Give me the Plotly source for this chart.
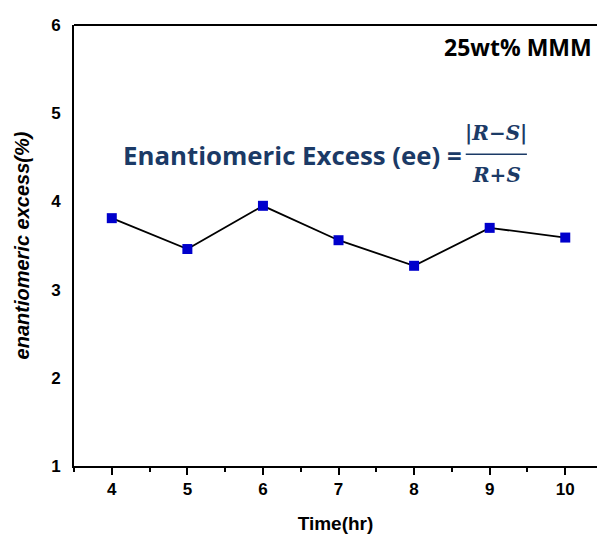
import plotly.graph_objects as go

time_hr = [4, 5, 6, 7, 8, 9, 10]
ee_pct = [3.81, 3.46, 3.95, 3.56, 3.27, 3.70, 3.59]
x_ticks = [4, 5, 6, 7, 8, 9, 10]
y_ticks = [1, 2, 3, 4, 5, 6]

navy = "#1b3a66"

fig = go.Figure()
fig.add_trace(go.Scatter(
    x=time_hr, y=ee_pct, mode="lines+markers",
    line=dict(color="black", width=1.8),
    marker=dict(symbol="square", size=10, color="#0000cc"),
    showlegend=False,
))

axis_font = dict(family="Liberation Sans, Arial", size=17, color="black")
fig.update_layout(
    width=597, height=534,
    margin=dict(l=74, r=0, t=25, b=68),
    paper_bgcolor="white", plot_bgcolor="white",
    xaxis=dict(
        range=[3.5, 10.42], tickvals=x_ticks, ticktext=[f"<b>{v}</b>" for v in x_ticks],
        ticks="outside", ticklen=7, tickwidth=2, tickcolor="black",
        minor=dict(tickvals=[3.5, 4.5, 5.5, 6.5, 7.5, 8.5, 9.5], ticks="outside", ticklen=4, tickwidth=2, tickcolor="black"),
        showline=True, linecolor="black", linewidth=2, mirror=False,
        showgrid=False, zeroline=False, tickfont=axis_font,
        title=dict(text="<b>Time(hr)</b>", font=dict(family="Liberation Sans, Arial", size=19, color="black"), standoff=18),
    ),
    yaxis=dict(
        range=[1, 6], tickvals=y_ticks, ticktext=[f"<b>{v}</b>" for v in y_ticks],
        ticks="", showline=True, linecolor="black", linewidth=2,
        showgrid=False, zeroline=False, tickfont=axis_font, ticklabelstandoff=8,
        title=dict(text="<b><i>enantiomeric excess(%)</i></b>", font=dict(family="Liberation Sans, Arial", size=20, color="black"), standoff=16),
    ),
)

# top border
fig.add_shape(type="line", xref="paper", yref="paper", x0=0, x1=1, y0=1, y1=1,
              line=dict(color="black", width=2))

fig.add_annotation(xref="paper", yref="paper", x=0.994, y=0.95, xanchor="right", yanchor="middle",
                   text="<b>25wt% MMM</b>", showarrow=False,
                   font=dict(family="Open Sans", size=23, color="black"))

fig.add_annotation(xref="paper", yref="paper", x=0.09, y=0.706, xanchor="left", yanchor="middle",
                   text="<b>Enantiomeric Excess (ee) =</b>", showarrow=False,
                   font=dict(family="Open Sans", size=25.8, color=navy))
fig.add_annotation(xref="paper", yref="paper", x=0.807, y=0.755, xanchor="center", yanchor="middle",
                   text="<b><i>|R−S|</i></b>", showarrow=False,
                   font=dict(family="DejaVu Serif", size=20, color=navy))
fig.add_annotation(xref="paper", yref="paper", x=0.807, y=0.66, xanchor="center", yanchor="middle",
                   text="<b><i>R+S</i></b>", showarrow=False,
                   font=dict(family="DejaVu Serif", size=20, color=navy))
fig.add_shape(type="line", xref="paper", yref="paper", x0=0.749, x1=0.866, y0=0.707, y1=0.707,
              line=dict(color=navy, width=1.5))

fig.write_html("out.html", config={"displayModeBar": False},
               post_script="document.body.style.margin='0';document.body.style.overflow='hidden';")
